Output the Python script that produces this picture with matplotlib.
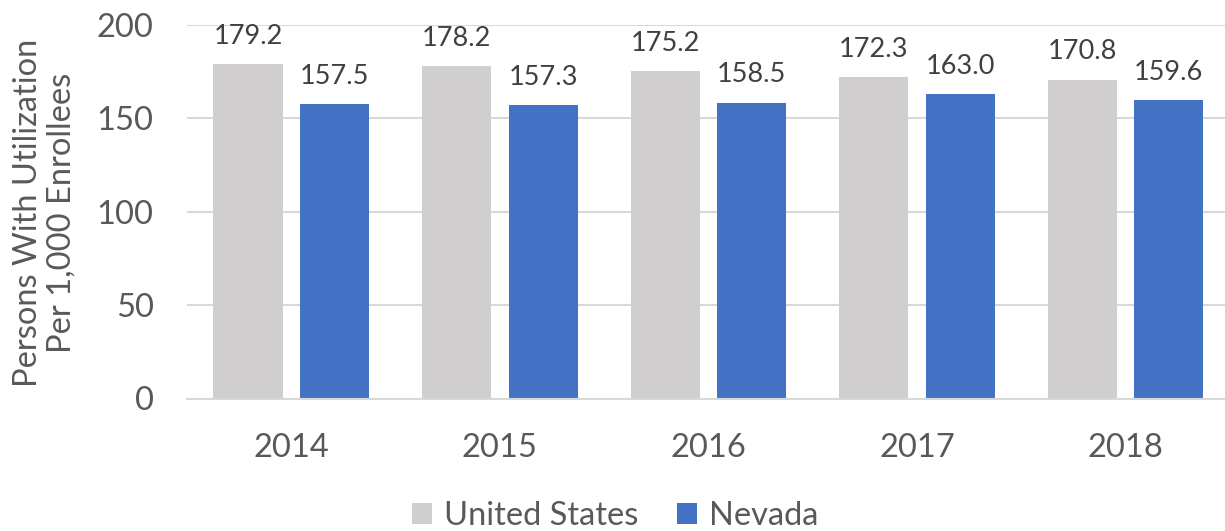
import matplotlib
matplotlib.use("Agg")
import matplotlib.pyplot as plt
import numpy as np

years = ["2014", "2015", "2016", "2017", "2018"]
united_states = [179.2, 178.2, 175.2, 172.3, 170.8]
nevada = [157.5, 157.3, 158.5, 163.0, 159.6]
series_names = ["United States", "Nevada"]
y_ticks = [0, 50, 100, 150, 200]

plt.rcParams["font.family"] = ["Lato", "DejaVu Sans"]
text_color = "#595959"
grid_color = "#D9D9D9"
us_color = "#D0CECE"
nv_color = "#4472C4"

fig = plt.figure(figsize=(12.25, 5.31), dpi=100)
ax = fig.add_axes([187 / 1225, 1 - 398.5 / 531, (1229.75 - 187) / 1225, (398.5 - 25) / 531])

x = np.arange(len(years))
width = 0.331
offset = 0.2075
bars_us = ax.bar(x - offset, united_states, width, color=us_color, label=series_names[0], zorder=2)
bars_nv = ax.bar(x + offset, nevada, width, color=nv_color, label=series_names[1], zorder=2)

for bars, vals in ((bars_us, united_states), (bars_nv, nevada)):
    for b, v in zip(bars, vals):
        ax.annotate(f"{v:.1f}", (b.get_x() + b.get_width() / 2, v),
                    xytext=(0, 14.5), textcoords="offset points",
                    ha="center", va="baseline", fontsize=19.5, color="#404040")

ax.set_ylim(0, 200)
ax.set_xlim(-0.5, 4.5)
ax.set_yticks(y_ticks)
ax.set_xticks(x)
ax.set_xticklabels(years)
ax.tick_params(axis="both", length=0, labelsize=23.5, labelcolor=text_color)
ax.tick_params(axis="x", pad=25)
ax.tick_params(axis="y", pad=24)
ax.yaxis.grid(True, color=grid_color, linewidth=1.5, zorder=0)
ax.set_axisbelow(True)
for side in ("top", "right", "left"):
    ax.spines[side].set_visible(False)
ax.spines["bottom"].set_color(grid_color)
ax.spines["bottom"].set_linewidth(1.5)
ax.spines["bottom"].set_zorder(3)

fig.text(45 / 1225, 1 - 213 / 531, "Persons With Utilization\nPer 1,000 Enrollees",
         rotation=90, ha="center", va="center", fontsize=23.5, color=text_color,
         linespacing=1.15, multialignment="center")

leg = fig.legend(handles=[bars_us, bars_nv], loc="center", bbox_to_anchor=(615 / 1225, 1 - 516 / 531),
                 ncol=2, frameon=False, fontsize=23.5, handlelength=0.62, handleheight=0.62,
                 handletextpad=0.35, columnspacing=1.2, borderpad=0)
for t in leg.get_texts():
    t.set_color(text_color)

fig.savefig("out.png", dpi=100)
